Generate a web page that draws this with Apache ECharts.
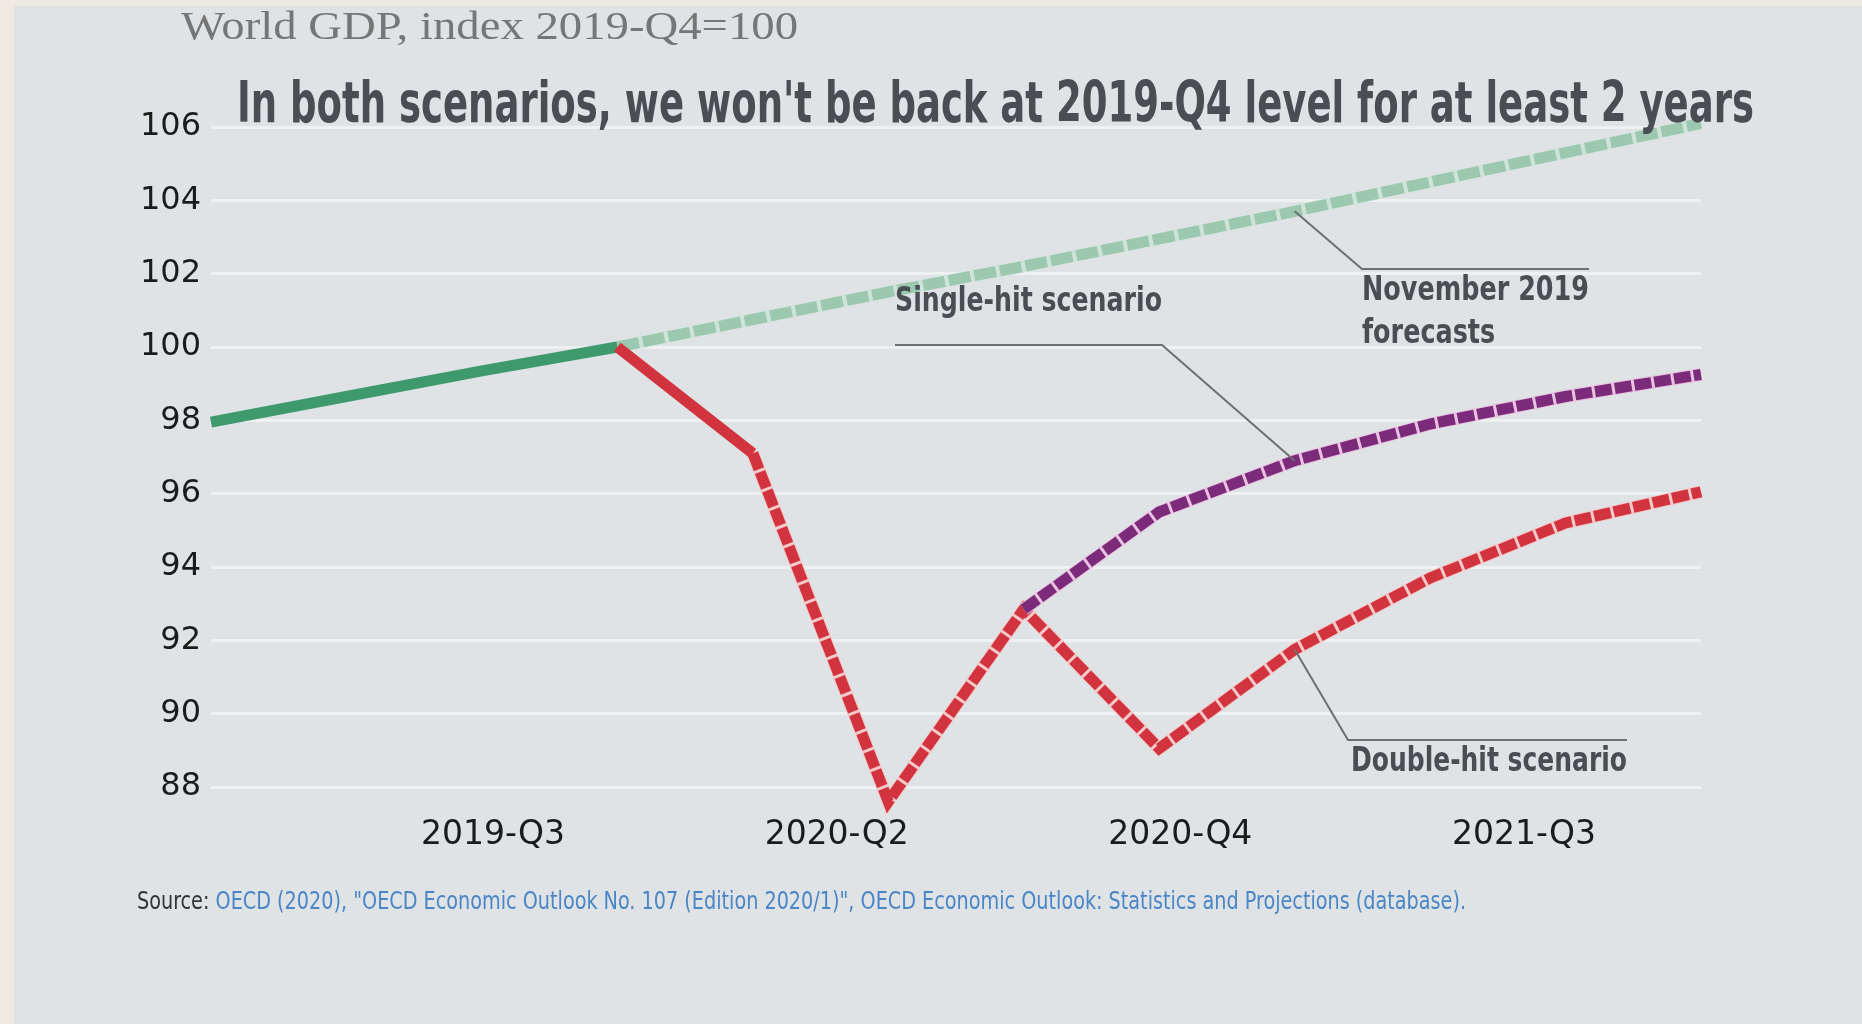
<!DOCTYPE html>
<html>
<head>
<meta charset="utf-8">
<script src="https://cdn.jsdelivr.net/npm/echarts@6/dist/echarts.min.js"></script>
<style>
html, body { margin: 0; padding: 0; background: #efebe3; }
#chart { width: 1862px; height: 1024px; }
</style>
</head>
<body>
<div id="chart"></div>
<script>
// ---- data (World GDP, index 2019-Q4 = 100) ----
const quarters = ['2019-Q1','2019-Q2','2019-Q3','2019-Q4','2020-Q1','2020-Q2','2020-Q3','2020-Q4','2021-Q1','2021-Q2','2021-Q3','2021-Q4'];
const xTickLabels = ['2019-Q3', '2020-Q2', '2020-Q4', '2021-Q3'];
const yTicks = { min: 88, max: 106, step: 2 };

const history = [97.95, 98.65, 99.35, 100.0];                                // 2019-Q1 .. 2019-Q4
const nov2019Forecast = [100.0, 100.75, 101.5, 102.2, 102.95, 103.7, 104.5, 105.3, 106.1]; // 2019-Q4 .. 2021-Q4
const firstQuarter2020 = [100.0, 97.1];                                       // 2019-Q4 .. 2020-Q1
const doubleHit = [97.1, 87.6, 92.85, 89.05, 91.75, 93.7, 95.2, 96.05];       // 2020-Q1 .. 2021-Q4
const singleHit = [92.85, 95.5, 96.9, 97.9, 98.65, 99.25];                    // 2020-Q3 .. 2021-Q4

const startOf = { history: 0, nov2019Forecast: 3, firstQuarter2020: 3, doubleHit: 4, singleHit: 6 };
const pairs = (arr, start) => arr.map((v, i) => [start + i, v]);

const TXT_DARK = '#4a4d52';
const chart = echarts.init(document.getElementById('chart'), null, { renderer: 'canvas' });

function lineSeries(name, data, color, width, dash, z) {
  return {
    name: name, type: 'line', data: data, xAxisIndex: 0, yAxisIndex: 0,
    symbol: 'none', silent: true, z: z, clip: false,
    lineStyle: { color: color, width: width, type: dash || 'solid', cap: 'butt', join: 'miter' }
  };
}

chart.setOption({
  animation: false,
  backgroundColor: 'transparent',
  grid: [
    { left: 211, right: 161, top: 127, bottom: 237 },
    { left: 493, right: 338, top: 127, bottom: 237 }
  ],
  xAxis: [
    { type: 'value', gridIndex: 0, min: 0, max: quarters.length - 1, show: false, splitLine: { show: false } },
    { type: 'category', gridIndex: 1, data: xTickLabels, boundaryGap: false,
      axisLine: { show: false }, axisTick: { show: false }, splitLine: { show: false },
      axisLabel: { margin: 32, fontSize: 33, fontFamily: 'DejaVu Sans', color: '#1b1b1b', interval: 0 } }
  ],
  yAxis: [
    { type: 'value', gridIndex: 0, min: yTicks.min, max: yTicks.max, interval: yTicks.step,
      axisLine: { show: false }, axisTick: { show: false },
      axisLabel: { margin: 10, fontSize: 32, fontFamily: 'DejaVu Sans', color: '#1b1b1b' },
      splitLine: { lineStyle: { color: '#eef0f2', width: 3 } } },
    { type: 'value', gridIndex: 1, show: false, splitLine: { show: false } }
  ],
  series: [
    lineSeries('November 2019 forecasts (gap)', pairs(nov2019Forecast, startOf.nov2019Forecast), '#cfe4d8', 12, 'solid', 2),
    lineSeries('November 2019 forecasts', pairs(nov2019Forecast, startOf.nov2019Forecast), '#9cc8b0', 11, [22, 4], 3),
    lineSeries('History', pairs(history, startOf.history), '#3e9a6c', 11, 'solid', 4),
    lineSeries('Double-hit scenario (gap)', pairs(doubleHit, startOf.doubleHit), '#f3c9ca', 13, 'solid', 5),
    lineSeries('Double-hit scenario', pairs(doubleHit, startOf.doubleHit), '#d1343e', 11, [17, 3], 6),
    lineSeries('2020-Q1', pairs(firstQuarter2020, startOf.firstQuarter2020), '#d1343e', 11, 'solid', 7),
    lineSeries('Single-hit scenario (gap)', pairs(singleHit, startOf.singleHit), '#e9c2e1', 13, 'solid', 8),
    lineSeries('Single-hit scenario', pairs(singleHit, startOf.singleHit), '#7c2a7a', 11, [17, 3], 9)
  ]
});

// ---- text / annotation layer ----
const mctx = document.createElement('canvas').getContext('2d');
function measure(str, weight, size, family) {
  mctx.font = weight + ' ' + size + 'px ' + family;
  return mctx.measureText(str).width;
}
const NARROW = "'Liberation Sans Narrow', 'DejaVu Sans Condensed', 'Liberation Sans', sans-serif";
const SERIF = "'Liberation Serif', 'DejaVu Serif', serif";

function fitText(str, x, y, targetW, weight, size, family, color, scaleOverride) {
  const s = scaleOverride || targetW / measure(str, weight, size, family);
  return {
    type: 'text', x: x, y: y, scaleX: s, silent: true, z: 50,
    style: { text: str, fontSize: size, fontWeight: weight, fontFamily: family, fill: color,
             align: 'left', verticalAlign: 'middle' }
  };
}

const P = (xi, v) => chart.convertToPixel({ xAxisIndex: 0, yAxisIndex: 0 }, [xi, v]);
const anchorNov = P(8, nov2019Forecast[8 - startOf.nov2019Forecast]);
const anchorSingle = P(8, singleHit[8 - startOf.singleHit]);
const anchorDouble = P(8, doubleHit[8 - startOf.doubleHit]);

const leader = (pts) => ({ type: 'polyline', silent: true, z: 40,
  shape: { points: pts }, style: { stroke: '#6c6f73', lineWidth: 2, fill: null } });

const ANN_W = 'bold';
const novScale = 227 / measure('November 2019', ANN_W, 33, NARROW);
const srcA = 'Source: ';
const srcB = 'OECD (2020), "OECD Economic Outlook No. 107 (Edition 2020/1)", OECD Economic Outlook: Statistics and Projections (database).';
const srcScale = 1329 / (measure(srcA, 'normal', 25, NARROW) + measure(srcB, 'normal', 25, NARROW));

chart.setOption({
  graphic: [
    { type: 'rect', silent: true, z: -100, zlevel: 0,
      shape: { x: 14, y: 6, width: 1848, height: 1018 }, style: { fill: '#dfe3e6' } },
    fitText('World GDP, index 2019-Q4=100', 181, 28, 617, 'normal', 40, SERIF, '#767676'),
    fitText("In both scenarios, we won't be back at 2019-Q4 level for at least 2 years", 237, 107, 1517, 'bold', 57, NARROW, TXT_DARK),
    fitText('Single-hit scenario', 895, 302, 267, ANN_W, 33, NARROW, TXT_DARK),
    fitText('November 2019', 1362, 291, 227, ANN_W, 33, NARROW, TXT_DARK, novScale),
    fitText('forecasts', 1362, 334, 132, ANN_W, 33, NARROW, TXT_DARK, novScale),
    fitText('Double-hit scenario', 1351, 762, 276, ANN_W, 33, NARROW, TXT_DARK),
    leader([anchorNov, [1362, 269], [1589, 269]]),
    leader([[895, 345], [1162, 345], anchorSingle]),
    leader([anchorDouble, [1348, 740], [1627, 740]]),
    fitText(srcA, 137, 902, 0, 'normal', 25, NARROW, '#333333', srcScale),
    fitText(srcB, 137 + measure(srcA, 'normal', 25, NARROW) * srcScale, 902, 0, 'normal', 25, NARROW, '#4a86c5', srcScale)
  ]
});
</script>
</body>
</html>
